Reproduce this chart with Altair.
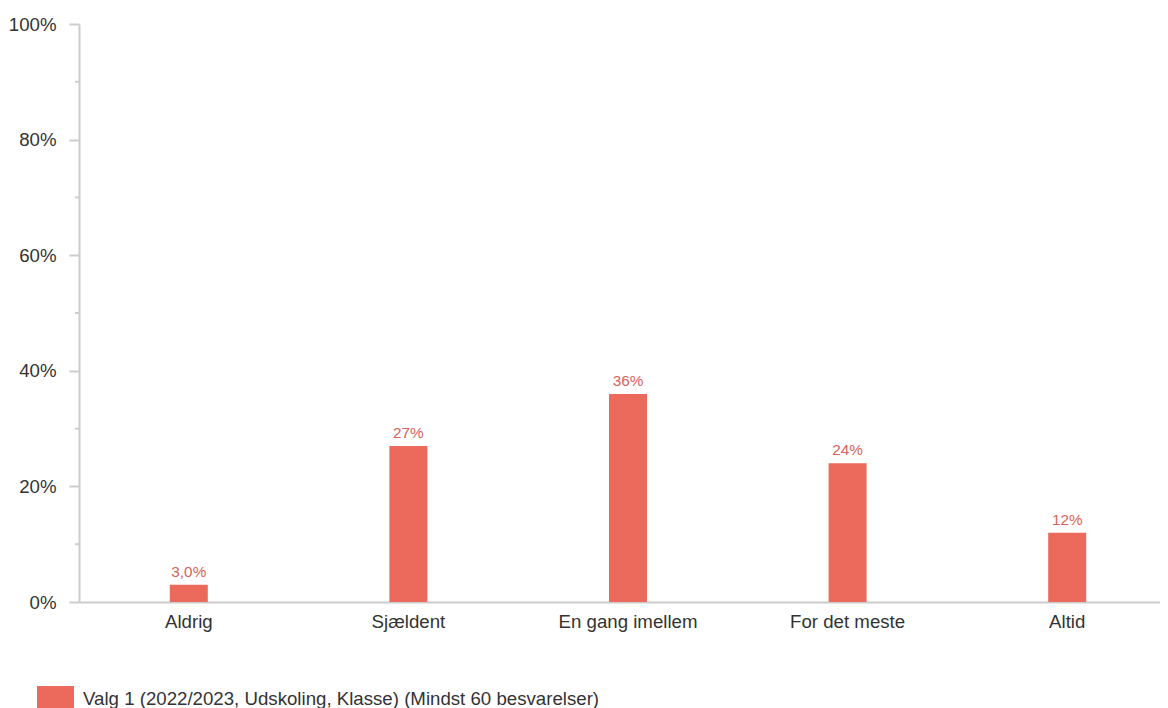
import altair as alt
import pandas as pd

categories = ["Aldrig", "Sjældent", "En gang imellem", "For det meste", "Altid"]
values = [3.0, 27, 36, 24, 12]
value_labels = ["3,0%", "27%", "36%", "24%", "12%"]
series_name = "Valg 1 (2022/2023, Udskoling, Klasse) (Mindst 60 besvarelser)"
major_ticks = [0, 20, 40, 60, 80, 100]
minor_ticks = [10, 30, 50, 70, 90]

df = pd.DataFrame({"cat": categories, "val": values, "lab": value_labels, "series": series_name})
minor_df = pd.DataFrame({"v": minor_ticks})

FONT = "Liberation Sans"
BAR = "#EC6A5C"
GRAY = "#CCCCCC"
FS = 18.67

x = alt.X("cat:N", sort=categories, title=None,
          scale=alt.Scale(range=[0, 1098], paddingInner=0, paddingOuter=0),
          axis=alt.Axis(labelAngle=0, labelFontSize=FS, labelColor="#333333", labelFont=FONT,
                        tickSize=0, ticks=False, labelPadding=10, domainColor=GRAY, domainWidth=2))
y_scale = alt.Scale(domain=[0, 100], nice=False)
y = alt.Y("val:Q", title=None, scale=y_scale,
          axis=alt.Axis(values=major_ticks, labelExpr="datum.value + '%'", grid=False,
                        labelFontSize=FS, labelColor="#333333", labelFont=FONT,
                        tickSize=10, tickColor=GRAY, tickWidth=2, labelPadding=13,
                        domainColor=GRAY, domainWidth=2))

bars = alt.Chart(df).mark_bar(size=38).encode(
    x=x, y=y,
    color=alt.Color("series:N", scale=alt.Scale(range=[BAR]),
                    legend=alt.Legend(title=None, orient="none", legendX=-42, legendY=656,
                                      symbolType="M-1,-0.67H1V0.67H-1Z", symbolSize=1369,
                                      symbolStrokeWidth=0, labelFontSize=FS, labelFont=FONT,
                                      labelColor="#333333", labelOffset=9, padding=0,
                                      labelLimit=0)),
)

texts = alt.Chart(df).mark_text(baseline="bottom", dy=-5, fontSize=15.3, font=FONT, color="#D8625A").encode(
    x=alt.X("cat:N", sort=categories), y=alt.Y("val:Q"), text="lab:N"
)

minor = alt.Chart(minor_df).mark_rule(color=GRAY, strokeWidth=2).encode(
    y=alt.Y("v:Q", scale=y_scale), x=alt.value(-4), x2=alt.value(0)
)

chart = alt.layer(minor, bars, texts).properties(
    width=1081, height=578,
    autosize=alt.AutoSizeParams(type="none"),
    padding={"left": 71, "top": 16, "right": 0, "bottom": 106},
).configure_view(stroke=None)

chart.save("out.html", embed_options={"renderer": "svg", "actions": False})
